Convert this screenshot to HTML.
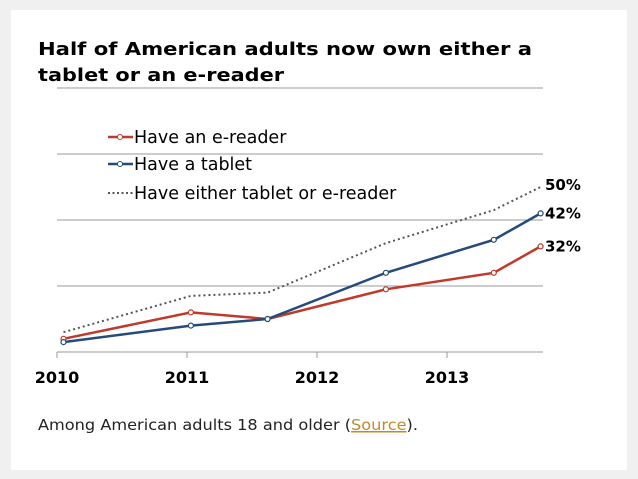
<!DOCTYPE html>
<html><head><meta charset="utf-8"><style>
body{margin:0;background:#f0f0f0;}
svg{display:block;font-family:"DejaVu Sans","Liberation Sans",sans-serif;}
</style></head><body>
<svg width="638" height="479" viewBox="0 0 638 479">
<rect x="11" y="10" width="616" height="460" fill="#fff"/>
<text x="38" y="55" font-size="18" font-weight="bold" textLength="494" lengthAdjust="spacingAndGlyphs">Half of American adults now own either a</text>
<text x="38" y="81" font-size="18" font-weight="bold" textLength="246" lengthAdjust="spacingAndGlyphs">tablet or an e-reader</text>
<g id="grid"></g>
<g id="series"></g>
<g>
<line x1="108" y1="137" x2="133" y2="137" stroke="#c0392b" stroke-width="2.5"/><circle cx="120" cy="137" r="2.5" fill="#fff" stroke="#c0392b"/>
<text x="134" y="143" font-size="17.5" fill="#000">Have an e-reader</text>
<line x1="108" y1="164" x2="133" y2="164" stroke="#244b7a" stroke-width="2.5"/><circle cx="120" cy="164" r="2.5" fill="#fff" stroke="#244b7a"/>
<text x="134" y="170" font-size="17.5" fill="#000">Have a tablet</text>
<line x1="108" y1="193" x2="133" y2="193" stroke="#555" stroke-width="2" stroke-dasharray="2,2.5"/>
<text x="134" y="199" font-size="17.5" fill="#000">Have either tablet or e-reader</text>
</g>
<text x="38" y="430" font-size="15" fill="#222" textLength="380" lengthAdjust="spacingAndGlyphs">Among American adults 18 and older (<tspan fill="#c08a2a" text-decoration="underline">Source</tspan>).</text>
</svg>
<script>
const yearTicks=[2010,2011,2012,2013];
const gridVals=[0,20,40,60,80];
const xDates=[2010.05,2011.03,2011.62,2012.53,2013.36,2013.72];
const ereader=[4,12,10,19,24,32];
const tablet=[3,8,10,24,34,42];
const either=[6,17,18,33,43,50];
const endLabels=["32%","42%","50%"];
const NS="http://www.w3.org/2000/svg";
const X=v=>57+(v-2010)*130;
const Y=v=>352-v*3.3;
function mk(t,a,p){const e=document.createElementNS(NS,t);for(const k in a)e.setAttribute(k,a[k]);p.appendChild(e);return e;}
const grid=document.getElementById('grid'),ser=document.getElementById('series');
gridVals.forEach(v=>{const l=mk('line',{x1:57,x2:543,y1:Y(v),y2:Y(v),stroke:'#999','stroke-width':1},grid);

});
yearTicks.forEach(y=>{const t=mk('line',{x1:X(y),x2:X(y),y1:Y(0),y2:Y(0)+6,stroke:'#999'},grid);


const tx=mk('text',{x:X(y),y:Y(0)+31,'font-size':16,'font-weight':'bold','text-anchor':'middle'},grid);tx.textContent=y;

});
function line(vals,color,dash,name,marker){
const pts=vals.map((v,i)=>X(xDates[i])+','+Y(v)).join(' ');
const pl=mk('polyline',{points:pts,fill:'none',stroke:color,'stroke-width':dash?2:2.5},ser);
if(dash)pl.setAttribute('stroke-dasharray','2,3');


if(marker)vals.forEach((v,i)=>{const c=mk('circle',{cx:X(xDates[i]),cy:Y(v),r:2.5,fill:'#fff',stroke:color,'stroke-width':1.2},ser);

});}
line(either,'#555',true,'either-line',false);
line(ereader,'#c0392b',false,'ereader-line',true);
line(tablet,'#244b7a',false,'tablet-line',true);
[ereader,tablet,either].forEach((s,i)=>{const v=s[s.length-1];
const t=mk('text',{x:545,y:Y(v)+5+(i===2?-2:0),'font-size':15,'font-weight':'bold'},ser);t.textContent=endLabels[i];

});
</script>
</body></html>
